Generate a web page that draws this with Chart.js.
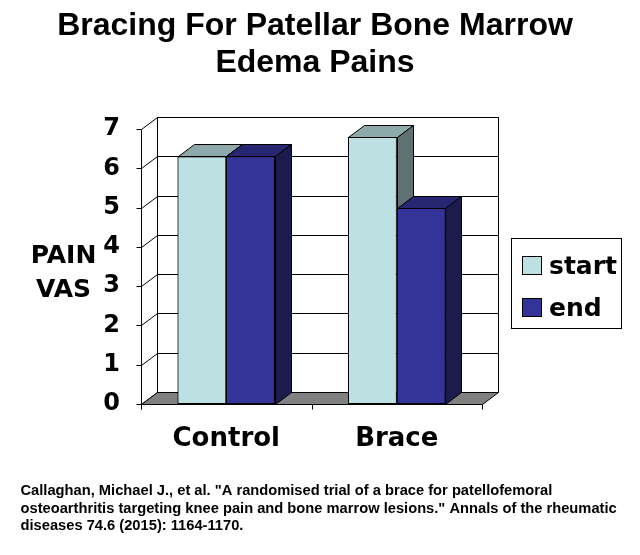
<!DOCTYPE html>
<html>
<head>
<meta charset="utf-8">
<script src="https://cdn.jsdelivr.net/npm/chart.js@4.4.1/dist/chart.umd.min.js"></script>
<style>
  html, body { margin: 0; padding: 0; background: #fff; }
  #wrap { width: 640px; height: 555px; position: relative; }
</style>
</head>
<body>
<div id="wrap"><canvas id="chart"></canvas></div>
<script>
const categories = ['Control', 'Brace'];
const seriesNames = ['start', 'end'];
const startValues = [6.3, 6.8];
const endValues = [6.3, 5.0];
const yMin = 0, yMax = 7, yStep = 1;
const titleLines = ['Bracing For Patellar Bone Marrow', 'Edema Pains'];
const axisLabelLines = ['PAIN', 'VAS'];
const citationLines = [
  'Callaghan, Michael J., et al. "A randomised trial of a brace for patellofemoral',
  'osteoarthritis targeting knee pain and bone marrow lesions." Annals of the rheumatic',
  'diseases 74.6 (2015): 1164-1170.'
];

// front / top / side colour of each series
const faces = [
  { front: '#BDE0E3', top: '#8EA9AA', side: '#5F7172' },
  { front: '#333399', top: '#262673', side: '#1B1B4D' }
];
const DX = 16, DY = 12; // fake 3d depth
const heavy = 'DejaVu Sans';
const plain = '"Liberation Sans", Arial, sans-serif';

const px = v => Math.round(v) + 0.5;

function line(ctx, x1, y1, x2, y2) {
  ctx.beginPath();
  ctx.moveTo(px(x1), px(y1));
  ctx.lineTo(px(x2), px(y2));
  ctx.stroke();
}

function poly(ctx, pts, fill) {
  ctx.beginPath();
  ctx.moveTo(px(pts[0][0]), px(pts[0][1]));
  for (let i = 1; i < pts.length; i++) ctx.lineTo(px(pts[i][0]), px(pts[i][1]));
  ctx.closePath();
  if (fill) { ctx.fillStyle = fill; ctx.fill(); }
  ctx.stroke();
}

// walls, floor, grid and axes
const room = {
  id: 'room',
  beforeDatasetsDraw(chart) {
    const { ctx, scales: { x, y } } = chart;
    const L = x.left, R = x.right;
    const B = y.getPixelForValue(yMin), T = y.getPixelForValue(yMax);
    ctx.save();
    ctx.lineWidth = 1;
    ctx.strokeStyle = '#000';
    // back wall
    poly(ctx, [[L + DX, T - DY], [R + DX, T - DY], [R + DX, B - DY], [L + DX, B - DY]], '#fff');
    for (let v = yMin; v <= yMax; v += yStep) {
      const py = y.getPixelForValue(v);
      line(ctx, L + DX, py - DY, R + DX, py - DY);
      line(ctx, L, py, L + DX, py - DY);
      line(ctx, L - 5, py, L, py);
    }
    // floor
    poly(ctx, [[L, B], [R, B], [R + DX, B - DY], [L + DX, B - DY]], '#808080');
    // front axes
    line(ctx, L, T, L, B + 5);
    line(ctx, L, B, R, B);
    const n = categories.length;
    for (let i = 0; i <= n; i++) {
      const tx = L + i * (R - L) / n;
      line(ctx, tx, B, tx, B + 5);
    }
    ctx.restore();
  }
};

// redraw bars left to right with their top and side faces
const bars3d = {
  id: 'bars3d',
  afterDatasetsDraw(chart) {
    const ctx = chart.ctx;
    ctx.save();
    ctx.lineWidth = 1;
    ctx.strokeStyle = '#000';
    chart.data.datasets.forEach((ds, d) => {
      const f = faces[d];
      chart.getDatasetMeta(d).data.forEach(bar => {
        bar.draw(ctx);
        const { x, y, base, width } = bar.getProps(['x', 'y', 'base', 'width'], true);
        const l = x - width / 2, r = x + width / 2;
        poly(ctx, [[l, y], [l + DX, y - DY], [r + DX, y - DY], [r, y]], f.top);
        poly(ctx, [[r, y], [r + DX, y - DY], [r + DX, base - DY], [r, base]], f.side);
      });
    });
    ctx.restore();
  }
};

// axis label, legend, citation
const extras = {
  id: 'extras',
  afterDraw(chart) {
    const ctx = chart.ctx;
    ctx.save();
    ctx.fillStyle = '#000';
    ctx.textBaseline = 'alphabetic';

    ctx.font = 'bold 25px ' + heavy;
    ctx.textAlign = 'center';
    ctx.fillText(axisLabelLines[0], 63.5, 263);
    ctx.fillText(axisLabelLines[1], 63.5, 297);

    // legend
    ctx.lineWidth = 1;
    ctx.strokeStyle = '#000';
    ctx.strokeRect(511.5, 238.5, 110, 90);
    ctx.textAlign = 'left';
    const rows = [256, 298];
    chart.data.datasets.forEach((ds, d) => {
      ctx.fillStyle = faces[d].front;
      ctx.fillRect(522.5, rows[d] + 0.5, 19, 18);
      ctx.strokeRect(522.5, rows[d] + 0.5, 19, 18);
      ctx.fillStyle = '#000';
      ctx.fillText(ds.label, 549, rows[d] + 18);
    });

    ctx.font = 'bold 14.7px ' + plain;
    citationLines.forEach((t, i) => ctx.fillText(t, 20.5, 495 + i * 17.5));
    ctx.restore();
  }
};

new Chart(document.getElementById('chart'), {
  type: 'bar',
  data: {
    labels: categories,
    datasets: [
      { label: seriesNames[0], data: startValues, backgroundColor: faces[0].front },
      { label: seriesNames[1], data: endValues, backgroundColor: faces[1].front }
    ]
  },
  options: {
    responsive: true,
    maintainAspectRatio: false,
    animation: false,
    devicePixelRatio: 1,
    layout: { padding: { left: 0, right: 10, top: 0, bottom: 0 } },
    datasets: {
      bar: {
        categoryPercentage: 4 / 7,
        barPercentage: 1,
        borderColor: '#000',
        borderWidth: 1,
        borderSkipped: false
      }
    },
    plugins: {
      legend: { display: false },
      tooltip: { enabled: false },
      title: {
        display: true,
        text: titleLines,
        color: '#000',
        font: { family: plain, size: 32, weight: 'bold', lineHeight: 1.17 },
        padding: { top: 7, bottom: 47.1 }
      }
    },
    scales: {
      x: {
        grid: { display: false },
        border: { display: false },
        ticks: { color: '#000', font: { family: heavy, size: 26, weight: 'bold' }, padding: 12 },
        afterFit(s) { s.height = 151; }
      },
      y: {
        min: yMin,
        max: yMax,
        grid: { display: false },
        border: { display: false },
        ticks: { stepSize: yStep, color: '#000', font: { family: heavy, size: 24, weight: 'bold' }, padding: 13 },
        afterFit(s) { s.width = 141; }
      },
      // empty axis that only keeps room for the legend
      y2: {
        position: 'right',
        grid: { display: false },
        border: { display: false },
        ticks: { display: false },
        afterFit(s) { s.width = 148; }
      }
    }
  },
  plugins: [room, bars3d, extras]
});
</script>
</body>
</html>
